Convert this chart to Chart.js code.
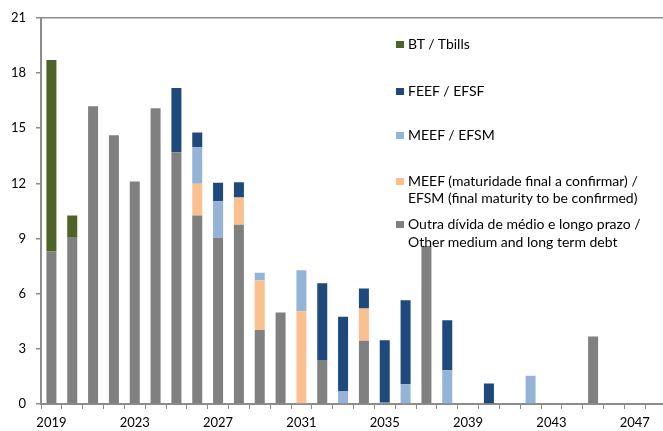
<!DOCTYPE html>
<html>
<head>
<meta charset="utf-8">
<script src="https://cdn.jsdelivr.net/npm/chart.js@4/dist/chart.umd.min.js"></script>
<style>
  html, body { margin: 0; padding: 0; background: #fff; overflow: hidden; }
  #wrap { position: absolute; left: 0; top: 0; width: 663px; height: 431px; overflow: hidden; }
  canvas { position: absolute; left: 0; top: 0; }
  .lg { position: absolute; left: 396px; font-family: Lato, sans-serif; font-size: 14px; line-height: 17.7px; color: #000; white-space: nowrap; }
  .lg i { position: absolute; left: 0; top: 6px; width: 8px; height: 7px; }
  .lg span { position: absolute; left: 12px; top: 0; }
</style>
</head>
<body>
<div id="wrap">
  <canvas id="c" width="666" height="431"></canvas>
  <div id="legend"></div>
</div>
<script>
const years = ["2019","2020","2021","2022","2023","2024","2025","2026","2027","2028","2029","2030","2031","2032","2033","2034","2035","2036","2037","2038","2039","2040","2041","2042","2043","2044","2045","2046","2047","2048"];
const yTicks = [0, 3, 6, 9, 12, 15, 18, 21];

const seriesNames = [
  "Outra dívida de médio e longo prazo / Other medium and long term debt",
  "MEEF (maturidade final a confirmar) / EFSM (final maturity to be confirmed)",
  "MEEF / EFSM",
  "FEEF / EFSF",
  "BT / Tbills"
];
const outra   = [8.30, 9.04, 16.19, 14.61, 12.10, 16.08, 13.69, 10.25, 9.03, 9.75, 4.03, 4.97, 0, 2.39, 0, 3.44, 0.08, 0, 8.59, 0, 0, 0, 0, 0, 0, 0, 3.67, 0, 0, 0];
const meefConf = [0, 0, 0, 0, 0, 0, 0, 1.72, 0, 1.48, 2.70, 0, 5.05, 0, 0, 1.75, 0, 0, 0, 0, 0, 0, 0, 0, 0, 0, 0, 0, 0, 0];
const meef    = [0, 0, 0, 0, 0, 0, 0, 1.99, 2.00, 0, 0.41, 0, 2.22, 0, 0.71, 0, 0, 1.07, 0, 1.83, 0, 0, 0, 1.54, 0, 0, 0, 0, 0, 0];
const feef    = [0, 0, 0, 0, 0, 0, 3.49, 0.80, 1.00, 0.83, 0, 0, 0, 4.17, 4.03, 1.09, 3.39, 4.57, 0, 2.73, 0, 1.12, 0, 0, 0, 0, 0, 0, 0, 0];
const bt      = [10.40, 1.21, 0, 0, 0, 0, 0, 0, 0, 0, 0, 0, 0, 0, 0, 0, 0, 0, 0, 0, 0, 0, 0, 0, 0, 0, 0, 0, 0, 0];

const colors = ["#808080", "#FAC090", "#95B3D7", "#1F497D", "#4F6228"];
const seriesData = [outra, meefConf, meef, feef, bt];

// HTML legend (top-to-bottom order: BT, FEEF, MEEF, MEEF conf, Outra)
const legendItems = [
  { idx: 4, lines: ["BT / Tbills"], top: 35.2 },
  { idx: 3, lines: ["FEEF / EFSF"], top: 81.5 },
  { idx: 2, lines: ["MEEF / EFSM"], top: 125.8 },
  { idx: 1, lines: ["MEEF (maturidade final a confirmar) /", "EFSM (final maturity to be confirmed)"], top: 171.5 },
  { idx: 0, lines: ["Outra dívida de médio e longo prazo /", "Other medium and long term debt"], top: 215.1 }
];
const lg = document.getElementById('legend');
legendItems.forEach(it => {
  const d = document.createElement('div');
  d.className = 'lg';
  d.style.top = it.top + 'px';
  const sq = document.createElement('i');
  sq.style.background = colors[it.idx];
  d.appendChild(sq);
  const s = document.createElement('span');
  s.innerHTML = it.lines.join('<br>');
  d.appendChild(s);
  lg.appendChild(d);
});

const axisGrey = '#8c8c8c';
new Chart(document.getElementById('c'), {
  type: 'bar',
  data: {
    labels: years,
    datasets: seriesData.map((d, i) => ({
      label: seriesNames[i],
      data: d,
      backgroundColor: colors[i],
      borderWidth: 0,
      barPercentage: 0.48,
      categoryPercentage: 1.0
    }))
  },
  options: {
    responsive: false,
    devicePixelRatio: 1,
    animation: false,
    layout: { padding: { top: 17, left: 0, right: 0, bottom: 0 } },
    plugins: { legend: { display: false }, tooltip: { enabled: false } },
    scales: {
      x: {
        stacked: true,
        offset: true,
        afterFit: s => { s.height = 27; },
        grid: { offset: true, drawOnChartArea: false, drawTicks: true, tickLength: 5, color: axisGrey, lineWidth: 1 },
        border: { color: axisGrey, width: 2 },
        ticks: {
          autoSkip: false, maxRotation: 0, minRotation: 0, padding: 6,
          color: '#000', font: { family: 'Lato', size: 13 },
          callback: (v, i) => (i % 4 === 0 ? years[i] : '')
        }
      },
      y: {
        stacked: true,
        min: yTicks[0], max: yTicks[yTicks.length - 1],
        afterFit: s => { s.width = 41; },
        afterBuildTicks: s => { s.ticks = yTicks.map(v => ({ value: v })); },
        grid: {
          color: c => (c.tick && c.tick.value === 21 ? axisGrey : 'rgba(0,0,0,0)'),
          tickColor: axisGrey, tickLength: 5, lineWidth: 1.5
        },
        border: { color: axisGrey, width: 2 },
        ticks: { padding: 10, color: '#000', font: { family: 'Lato', size: 13 } }
      }
    }
  }
});
</script>
</body>
</html>
